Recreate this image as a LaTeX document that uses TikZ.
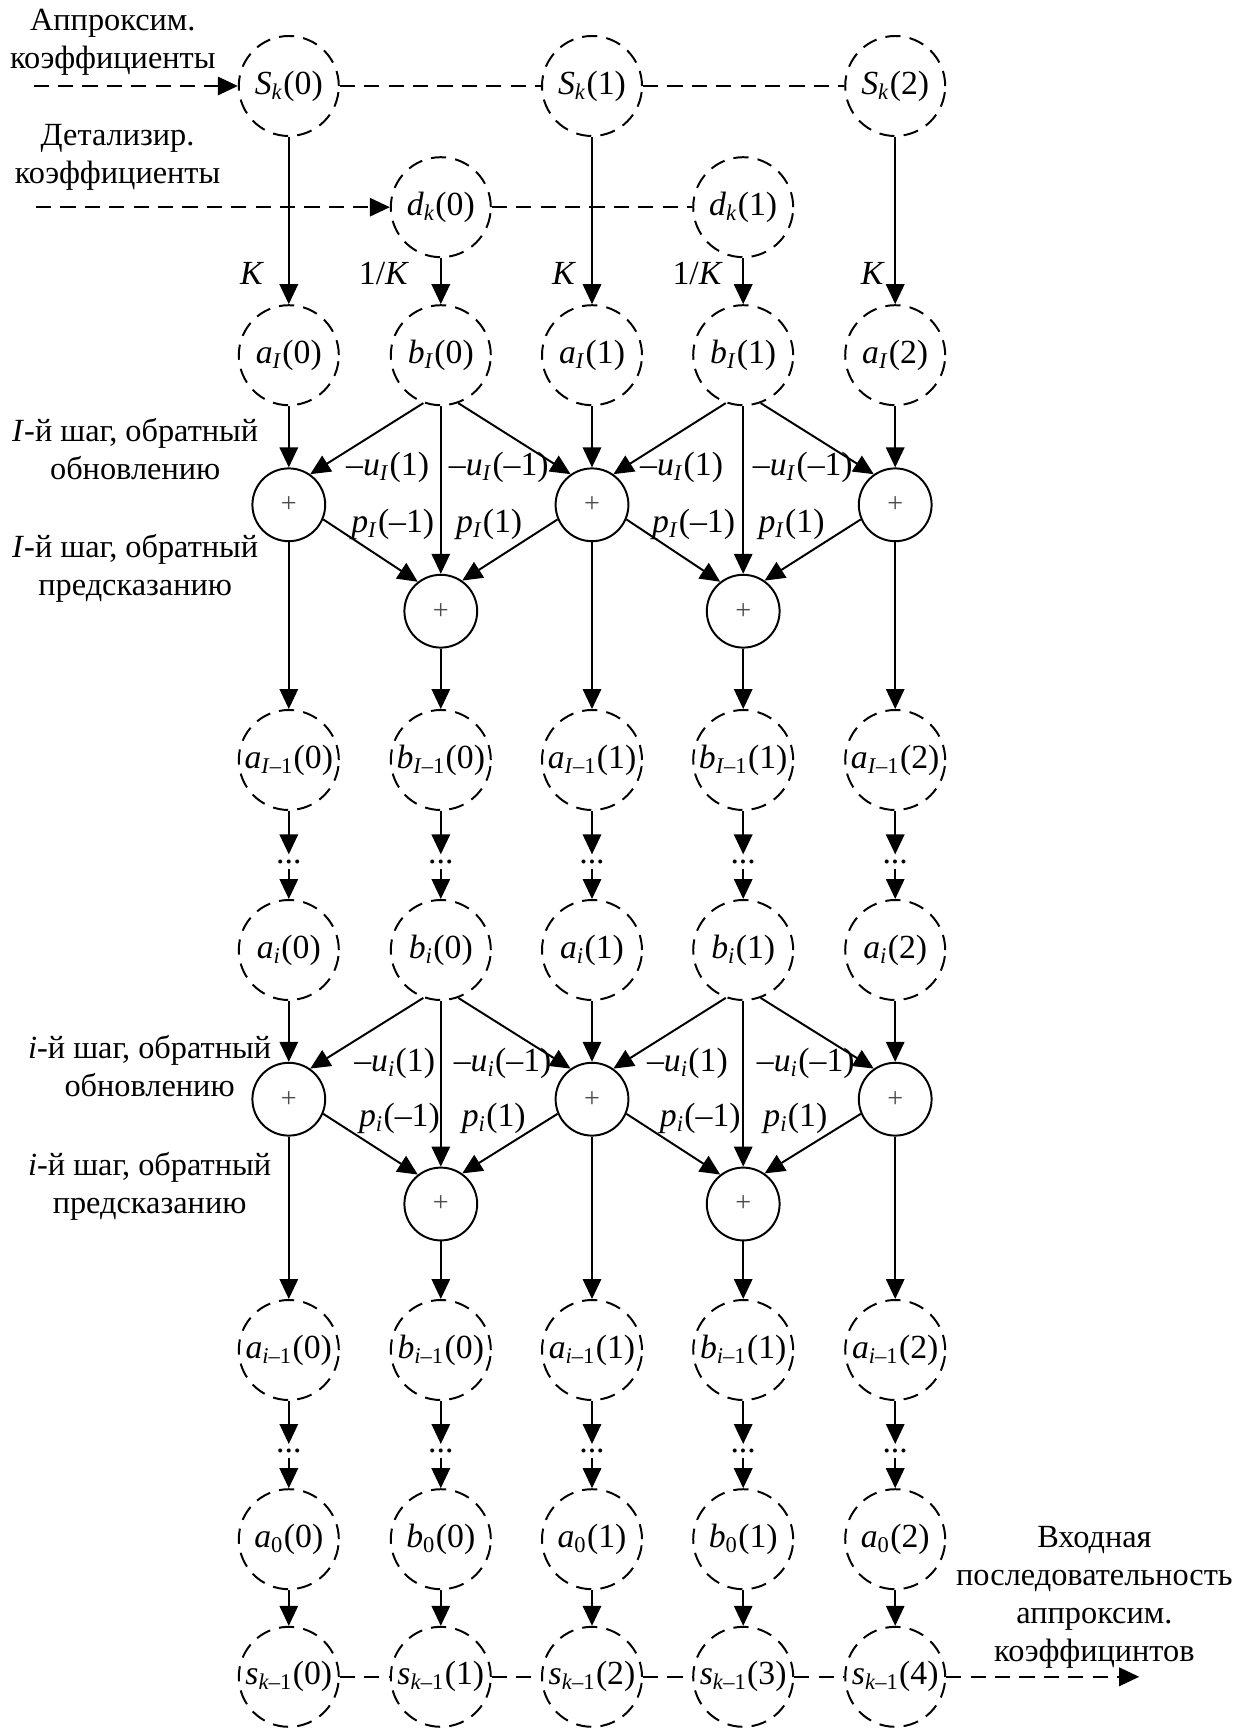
\documentclass[tikz,border=0pt]{standalone}
\usepackage{fontspec}
\setmainfont{Liberation Serif}
\usepackage{tikz}
\usetikzlibrary{arrows.meta,positioning}

\newcommand{\sig}[3]{\textit{#1}\textsubscript{#2}(#3)}

\begin{document}
\begin{tikzpicture}[
    line width=0.7pt,
    var/.style={draw, circle, dash pattern=on 1.9mm off 1.15mm, minimum size=1.25cm, inner sep=0pt, font=\fontsize{12}{14}\selectfont},
    adder/.style={draw, circle, minimum size=0.91cm, inner sep=0pt, text=black!70, font=\fontsize{10}{10}\selectfont},
    dotnode/.style={inner sep=1.5pt, font=\fontsize{12}{14}\selectfont},
    lbl/.style={inner sep=0pt, font=\fontsize{12}{14}\selectfont},
    side/.style={align=center, inner sep=0pt, font=\fontsize{11.5}{13.5}\selectfont},
    arrow/.style={-{Triangle[length=2.5mm,width=2.3mm]}},
    dline/.style={dash pattern=on 1.9mm off 1.15mm},
    darrow/.style={dline, -{Triangle[length=2.5mm,width=2.3mm]}}
]
    \useasboundingbox (0,0) rectangle (15.55,-21.6);

    % input coefficients
    \node[side] (txtS) at (1.41,-0.53) {Аппроксим.\\коэффициенты};
    \node[side] (txtD) at (1.47,-1.97) {Детализир.\\коэффициенты};
    \coordinate (inS) at (0.42,-1.075);
    \coordinate (inD) at (0.45,-2.59);
    \node[var] (S0) at (3.61,-1.075) {\sig{S}{\textit{k}}{0}};
    \node[var] (S1) at (7.40,-1.075) {\sig{S}{\textit{k}}{1}};
    \node[var] (S2) at (11.19,-1.075) {\sig{S}{\textit{k}}{2}};
    \node[var] (d0) at (5.51,-2.59) {\sig{d}{\textit{k}}{0}};
    \node[var] (d1) at (9.29,-2.59) {\sig{d}{\textit{k}}{1}};

    \node[lbl] (K0) at (3.15,-3.42) {\textit{K}};
    \node[lbl] (K1) at (4.80,-3.42) {1/\textit{K}};
    \node[lbl] (K2) at (7.05,-3.42) {\textit{K}};
    \node[lbl] (K3) at (8.72,-3.42) {1/\textit{K}};
    \node[lbl] (K4) at (10.91,-3.42) {\textit{K}};

    % level I
    \node[var] (aI0) at (3.61,-4.44) {\sig{a}{\textit{I}}{0}};
    \node[var] (bI0) at (5.51,-4.44) {\sig{b}{\textit{I}}{0}};
    \node[var] (aI1) at (7.40,-4.44) {\sig{a}{\textit{I}}{1}};
    \node[var] (bI1) at (9.29,-4.44) {\sig{b}{\textit{I}}{1}};
    \node[var] (aI2) at (11.19,-4.44) {\sig{a}{\textit{I}}{2}};

    \node[side] (stepUI) at (1.69,-5.61) {\textit{I}-й шаг, обратный\\обновлению};
    \node[side] (stepPI) at (1.69,-7.11) {\textit{I}-й шаг, обратный\\предсказанию};
    \node[adder] (uI0) at (3.61,-6.31) {+};
    \node[adder] (uI1) at (7.40,-6.31) {+};
    \node[adder] (uI2) at (11.19,-6.31) {+};
    \node[adder] (pI0) at (5.51,-7.64) {+};
    \node[adder] (pI1) at (9.29,-7.64) {+};

    \node[lbl, anchor=east] (uIa) at (5.375,-5.84) {–\sig{u}{\textit{I}}{1}};
    \node[lbl, anchor=west] (uIb) at (5.60,-5.84) {–\sig{u}{\textit{I}}{–1}};
    \node[lbl, anchor=east] (pIa) at (5.44,-6.55) {\sig{p}{\textit{I}}{–1}};
    \node[lbl, anchor=west] (pIb) at (5.69,-6.55) {\sig{p}{\textit{I}}{1}};
    \node[lbl, anchor=east] (uIc) at (9.05,-5.84) {–\sig{u}{\textit{I}}{1}};
    \node[lbl, anchor=west] (uId) at (9.40,-5.84) {–\sig{u}{\textit{I}}{–1}};
    \node[lbl, anchor=east] (pIc) at (9.20,-6.55) {\sig{p}{\textit{I}}{–1}};
    \node[lbl, anchor=west] (pId) at (9.47,-6.55) {\sig{p}{\textit{I}}{1}};

    % level I-1
    \node[var] (aJ0) at (3.61,-9.5) {\sig{a}{\textit{I}–1}{0}};
    \node[var] (bJ0) at (5.51,-9.5) {\sig{b}{\textit{I}–1}{0}};
    \node[var] (aJ1) at (7.40,-9.5) {\sig{a}{\textit{I}–1}{1}};
    \node[var] (bJ1) at (9.29,-9.5) {\sig{b}{\textit{I}–1}{1}};
    \node[var] (aJ2) at (11.19,-9.5) {\sig{a}{\textit{I}–1}{2}};

    \node[dotnode] (t0) at (3.61,-10.77) {...};
    \node[dotnode] (t1) at (5.51,-10.77) {...};
    \node[dotnode] (t2) at (7.40,-10.77) {...};
    \node[dotnode] (t3) at (9.29,-10.77) {...};
    \node[dotnode] (t4) at (11.19,-10.77) {...};

    % level i
    \node[var] (ai0) at (3.61,-11.875) {\sig{a}{\textit{i}}{0}};
    \node[var] (bi0) at (5.51,-11.875) {\sig{b}{\textit{i}}{0}};
    \node[var] (ai1) at (7.40,-11.875) {\sig{a}{\textit{i}}{1}};
    \node[var] (bi1) at (9.29,-11.875) {\sig{b}{\textit{i}}{1}};
    \node[var] (ai2) at (11.19,-11.875) {\sig{a}{\textit{i}}{2}};

    \node[side] (stepUi) at (1.87,-13.33) {\textit{i}-й шаг, обратный\\обновлению};
    \node[side] (stepPi) at (1.87,-14.83) {\textit{i}-й шаг, обратный\\предсказанию};
    \node[adder] (ui0) at (3.61,-13.74) {+};
    \node[adder] (ui1) at (7.40,-13.74) {+};
    \node[adder] (ui2) at (11.19,-13.74) {+};
    \node[adder] (pi0) at (5.51,-15.05) {+};
    \node[adder] (pi1) at (9.29,-15.05) {+};

    \node[lbl, anchor=east] (uia) at (5.45,-13.29) {–\sig{u}{\textit{i}}{1}};
    \node[lbl, anchor=west] (uib) at (5.66,-13.29) {–\sig{u}{\textit{i}}{–1}};
    \node[lbl, anchor=east] (pia) at (5.51,-13.98) {\sig{p}{\textit{i}}{–1}};
    \node[lbl, anchor=west] (pib) at (5.76,-13.98) {\sig{p}{\textit{i}}{1}};
    \node[lbl, anchor=east] (uic) at (9.11,-13.29) {–\sig{u}{\textit{i}}{1}};
    \node[lbl, anchor=west] (uid) at (9.45,-13.29) {–\sig{u}{\textit{i}}{–1}};
    \node[lbl, anchor=east] (pic) at (9.27,-13.98) {\sig{p}{\textit{i}}{–1}};
    \node[lbl, anchor=west] (pid) at (9.53,-13.98) {\sig{p}{\textit{i}}{1}};

    % level i-1
    \node[var] (aj0) at (3.61,-16.875) {\sig{a}{\textit{i}–1}{0}};
    \node[var] (bj0) at (5.51,-16.875) {\sig{b}{\textit{i}–1}{0}};
    \node[var] (aj1) at (7.40,-16.875) {\sig{a}{\textit{i}–1}{1}};
    \node[var] (bj1) at (9.29,-16.875) {\sig{b}{\textit{i}–1}{1}};
    \node[var] (aj2) at (11.19,-16.875) {\sig{a}{\textit{i}–1}{2}};

    \node[dotnode] (w0) at (3.61,-18.14) {...};
    \node[dotnode] (w1) at (5.51,-18.14) {...};
    \node[dotnode] (w2) at (7.40,-18.14) {...};
    \node[dotnode] (w3) at (9.29,-18.14) {...};
    \node[dotnode] (w4) at (11.19,-18.14) {...};

    % level 0 and output
    \node[var] (az0) at (3.61,-19.24) {\sig{a}{0}{0}};
    \node[var] (bz0) at (5.51,-19.24) {\sig{b}{0}{0}};
    \node[var] (az1) at (7.40,-19.24) {\sig{a}{0}{1}};
    \node[var] (bz1) at (9.29,-19.24) {\sig{b}{0}{1}};
    \node[var] (az2) at (11.19,-19.24) {\sig{a}{0}{2}};

    \node[var] (s0) at (3.61,-20.96) {\sig{s}{\textit{k}–1}{0}};
    \node[var] (s1) at (5.51,-20.96) {\sig{s}{\textit{k}–1}{1}};
    \node[var] (s2) at (7.40,-20.96) {\sig{s}{\textit{k}–1}{2}};
    \node[var] (s3) at (9.29,-20.96) {\sig{s}{\textit{k}–1}{3}};
    \node[var] (s4) at (11.19,-20.96) {\sig{s}{\textit{k}–1}{4}};
    \coordinate (out) at (14.24,-20.96);
    \node[side] (txtOut) at (13.68,-19.97) {Входная\\последовательность\\аппроксим.\\коэффицинтов};

    % dashed rows
    \draw[darrow] (inS) -- (S0);
    \draw[dline] (S0) -- (S1);
    \draw[dline] (S1) -- (S2);
    \draw[darrow] (inD) -- (d0);
    \draw[dline] (d0) -- (d1);
    \draw[dline] (s0) -- (s1);
    \draw[dline] (s1) -- (s2);
    \draw[dline] (s2) -- (s3);
    \draw[dline] (s3) -- (s4);
    \draw[darrow] (s4) -- (out);

    % scaling
    \draw[arrow] (S0) -- (aI0);
    \draw[arrow] (d0) -- (bI0);
    \draw[arrow] (S1) -- (aI1);
    \draw[arrow] (d1) -- (bI1);
    \draw[arrow] (S2) -- (aI2);

    % step I
    \draw[arrow] (aI0) -- (uI0);
    \draw[arrow] (aI1) -- (uI1);
    \draw[arrow] (aI2) -- (uI2);
    \draw[arrow] (bI0.250) -- (uI0.55);
    \draw[arrow] (bI0.290) -- (uI1.125);
    \draw[arrow] (bI1.250) -- (uI1.55);
    \draw[arrow] (bI1.290) -- (uI2.125);
    \draw[arrow] (bI0) -- (pI0);
    \draw[arrow] (bI1) -- (pI1);
    \draw[arrow] (uI0.-23) -- (pI0.128);
    \draw[arrow] (uI1.203) -- (pI0.55);
    \draw[arrow] (uI1.-23) -- (pI1.128);
    \draw[arrow] (uI2.203) -- (pI1.55);
    \draw[arrow] (uI0) -- (aJ0);
    \draw[arrow] (pI0) -- (bJ0);
    \draw[arrow] (uI1) -- (aJ1);
    \draw[arrow] (pI1) -- (bJ1);
    \draw[arrow] (uI2) -- (aJ2);

    % skipped levels
    \draw[arrow] (aJ0) -- (t0);
    \draw[arrow] (bJ0) -- (t1);
    \draw[arrow] (aJ1) -- (t2);
    \draw[arrow] (bJ1) -- (t3);
    \draw[arrow] (aJ2) -- (t4);
    \draw[arrow] (t0) -- (ai0);
    \draw[arrow] (t1) -- (bi0);
    \draw[arrow] (t2) -- (ai1);
    \draw[arrow] (t3) -- (bi1);
    \draw[arrow] (t4) -- (ai2);

    % step i
    \draw[arrow] (ai0) -- (ui0);
    \draw[arrow] (ai1) -- (ui1);
    \draw[arrow] (ai2) -- (ui2);
    \draw[arrow] (bi0.250) -- (ui0.55);
    \draw[arrow] (bi0.290) -- (ui1.125);
    \draw[arrow] (bi1.250) -- (ui1.55);
    \draw[arrow] (bi1.290) -- (ui2.125);
    \draw[arrow] (bi0) -- (pi0);
    \draw[arrow] (bi1) -- (pi1);
    \draw[arrow] (ui0.-23) -- (pi0.128);
    \draw[arrow] (ui1.203) -- (pi0.55);
    \draw[arrow] (ui1.-23) -- (pi1.128);
    \draw[arrow] (ui2.203) -- (pi1.55);
    \draw[arrow] (ui0) -- (aj0);
    \draw[arrow] (pi0) -- (bj0);
    \draw[arrow] (ui1) -- (aj1);
    \draw[arrow] (pi1) -- (bj1);
    \draw[arrow] (ui2) -- (aj2);

    \draw[arrow] (aj0) -- (w0);
    \draw[arrow] (bj0) -- (w1);
    \draw[arrow] (aj1) -- (w2);
    \draw[arrow] (bj1) -- (w3);
    \draw[arrow] (aj2) -- (w4);
    \draw[arrow] (w0) -- (az0);
    \draw[arrow] (w1) -- (bz0);
    \draw[arrow] (w2) -- (az1);
    \draw[arrow] (w3) -- (bz1);
    \draw[arrow] (w4) -- (az2);

    \draw[arrow] (az0) -- (s0);
    \draw[arrow] (bz0) -- (s1);
    \draw[arrow] (az1) -- (s2);
    \draw[arrow] (bz1) -- (s3);
    \draw[arrow] (az2) -- (s4);
\end{tikzpicture}
\end{document}
